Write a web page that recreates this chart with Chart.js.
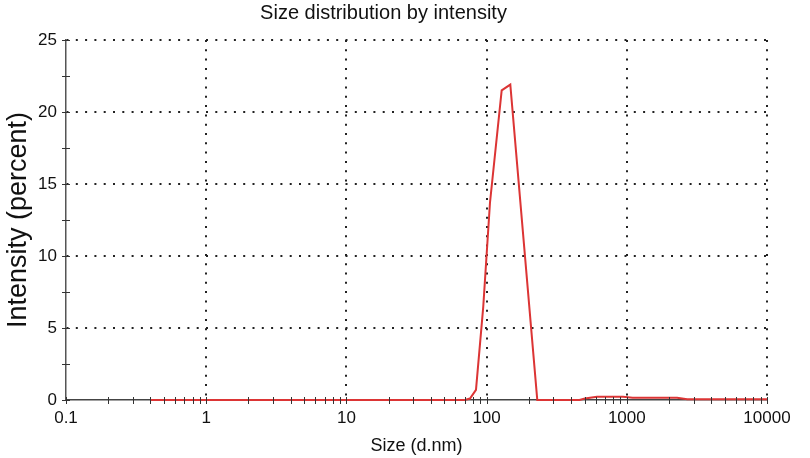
<!DOCTYPE html>
<html>
<head>
<meta charset="utf-8">
<script src="https://cdn.jsdelivr.net/npm/chart.js@4/dist/chart.umd.min.js"></script>
<style>
  html, body { margin: 0; padding: 0; background: #fff; }
  #wrap { width: 810px; height: 458px; }
</style>
</head>
<body>
<div id="wrap"><canvas id="grafico" width="810" height="458"></canvas></div>
<script>
// datos
const tamanos = [0.4, 1, 5, 20, 50, 70, 76.1, 84.0, 94.7, 105.7, 128.1, 147.6, 229.9,
                 260, 320, 400, 459, 503, 613, 939, 1100, 2281, 2700, 5000, 10000];
const intensidad = [0, 0, 0, 0, 0, 0, 0.1, 0.7, 6.5, 13.7, 21.5, 21.9, 0,
                    0, 0, 0, 0, 0.1, 0.23, 0.23, 0.16, 0.15, 0.05, 0.05, 0.05];
const decadas = [0.1, 1, 10, 100, 1000, 10000];
const etiquetasY = [0, 5, 10, 15, 20, 25];

const fuente = "'Liberation Sans', Arial, sans-serif";
const esDecada = v => decadas.some(d => Math.abs(v - d) < d * 1e-6);

// marcas de eje que cruzan la línea del eje
const marcas = {
    id: 'marcas',
    afterDraw(chart) {
        const c = chart.ctx, a = chart.chartArea;
        const sx = chart.scales.x, sy = chart.scales.y;
        c.save();
        c.setLineDash([]);
        c.strokeStyle = '#333';
        c.lineWidth = 1;
        c.beginPath();
        sx.ticks.forEach(t => {
            const px = Math.round(sx.getPixelForValue(t.value)) + 0.5;
            c.moveTo(px, a.bottom - 3); c.lineTo(px, a.bottom + 4);
        });
        sy.ticks.forEach(t => {
            const py = Math.round(sy.getPixelForValue(t.value)) + 0.5;
            c.moveTo(a.left - 4, py); c.lineTo(a.left + 4, py);
        });
        c.stroke();
        c.restore();
    }
};

const ctx = document.getElementById('grafico').getContext('2d');
new Chart(ctx, {
    type: 'line',
    data: {
        datasets: [{
            data: tamanos.map((s, i) => ({ x: s, y: intensidad[i] })),
            borderColor: '#dc3535',
            borderWidth: 2,
            pointRadius: 0,
            tension: 0,
            fill: false,
            clip: 4
        }]
    },
    options: {
        responsive: false,
        animation: false,
        layout: { padding: { right: 43, left: 0, top: 0, bottom: 0 } },
        plugins: {
            legend: { display: false },
            tooltip: { enabled: false },
            title: {
                display: true,
                text: 'Size distribution by intensity',
                color: '#111',
                font: { family: fuente, size: 20, weight: 'normal' },
                padding: { top: 1, bottom: 15 }
            }
        },
        scales: {
            x: {
                type: 'logarithmic',
                min: 0.1,
                max: 10000,
                afterBuildTicks: s => {
                    const t = [];
                    decadas.forEach(d => {
                        for (let k = 1; k <= 9; k++) {
                            const v = d * k;
                            if (v <= 10000 * 1.0001) t.push({ value: v });
                        }
                    });
                    s.ticks = t;
                },
                afterFit: s => { s.height = 58; },
                border: { display: true, color: '#444', width: 1.5, dash: [2, 7.3] },
                grid: {
                    drawTicks: false,
                    lineWidth: 2,
                    color: c => (c.tick && esDecada(c.tick.value) && c.tick.value > 0.11) ? '#222' : 'rgba(0,0,0,0)'
                },
                ticks: {
                    autoSkip: false,
                    maxRotation: 0,
                    padding: 8,
                    color: '#111',
                    font: { family: fuente, size: 17 },
                    callback: v => esDecada(v) ? String(v) : ''
                },
                title: {
                    display: true,
                    text: 'Size (d.nm)',
                    color: '#111',
                    font: { family: fuente, size: 18 },
                    padding: { top: 0, bottom: 1 }
                }
            },
            y: {
                min: 0,
                max: 25,
                afterBuildTicks: s => {
                    const t = [];
                    etiquetasY.forEach(v => {
                        t.push({ value: v });
                        if (v < 25) t.push({ value: v + 2.5 });
                    });
                    s.ticks = t;
                },
                afterFit: s => { s.width = 66; },
                border: { display: true, color: '#555', width: 1.5, dash: [2, 7.3] },
                grid: {
                    drawTicks: false,
                    lineWidth: 2,
                    color: c => (c.tick && etiquetasY.includes(c.tick.value) && c.tick.value > 0) ? '#222' : 'rgba(0,0,0,0)'
                },
                ticks: {
                    autoSkip: false,
                    padding: 9,
                    color: '#111',
                    font: { family: fuente, size: 17 },
                    callback: v => etiquetasY.includes(v) ? String(v) : ''
                },
                title: {
                    display: true,
                    text: 'Intensity (percent)',
                    color: '#111',
                    font: { family: fuente, size: 27 },
                    padding: { top: 2, bottom: 0 }
                }
            }
        }
    },
    plugins: [marcas]
});
</script>
</body>
</html>
